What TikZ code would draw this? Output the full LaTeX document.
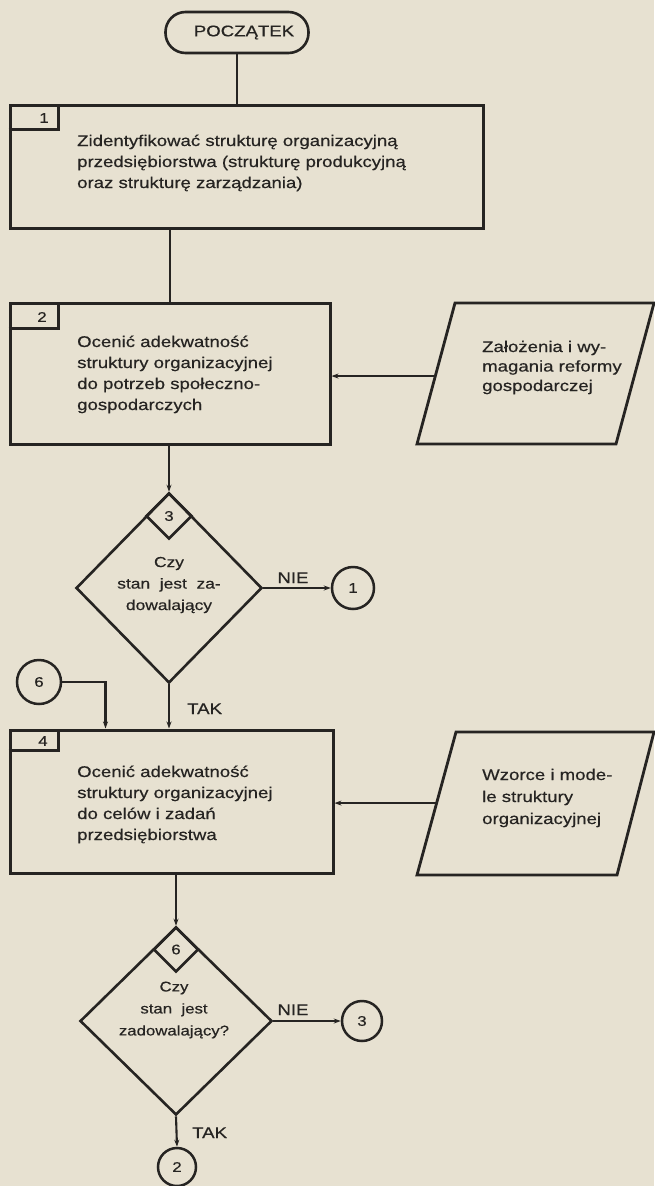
\documentclass[tikz,border=0pt]{standalone}
\usepackage{fontspec}
\setmainfont{Liberation Sans}[FakeStretch=1.2, WordSpace=2, FakeBold=0.5]
\usetikzlibrary{shapes.geometric, arrows.meta, calc}
\definecolor{paper}{RGB}{231,225,209}
\definecolor{ink}{RGB}{38,36,34}
\begin{document}
\begin{tikzpicture}[x=1pt, y=-1pt,
  procbox/.style={draw=ink, line width=3pt, rectangle, inner sep=0pt},
  tabline/.style={draw=ink, line width=2.5pt},
  datain/.style={draw=ink, line width=2.8pt, line join=miter},
  txt/.style={anchor=base west, inner sep=0pt, align=left, text=ink,
              font=\fontsize{15.5}{21}\selectfont},
  ctxt/.style={anchor=center, inner sep=0pt, align=center, text=ink,
              font=\fontsize{14.5}{21.5}\selectfont},
  lbl/.style={inner sep=0pt, text=ink, font=\fontsize{15.5}{18}\selectfont},
  num/.style={inner sep=0pt, text=ink, font=\fontsize{14}{16}\selectfont},
  conn/.style={draw=ink, line width=2.1pt},
  arr/.style={conn, -{Stealth[length=7pt,width=5pt]}},
  decision/.style={diamond, draw=ink, line width=2.6pt, inner sep=0pt},
  link/.style={circle, draw=ink, line width=2.5pt, inner sep=0pt},
  startstop/.style={draw=ink, line width=2.6pt, rounded corners=20pt, inner sep=0pt,
                 text=ink, font=\fontsize{15.5}{18}\selectfont}
]
\useasboundingbox (0,0) rectangle (654,1186);
\fill[paper] (0,0) rectangle (654,1186);

% start terminal
\node[startstop, minimum width=143pt, minimum height=41pt] (start) at (237,32.5)
  {\hspace*{14pt}POCZĄTEK};

% step 1
\node[procbox, minimum width=473pt, minimum height=123pt] (b1) at (246.5,166.5) {};
\draw[tabline] ([yshift=-26pt]b1.north west) -| ([xshift=50pt]b1.north west);
\node[num] (n1) at (44,118) {1};
\node[txt, text width=420pt] (t1) at (77,146)
  {Zidentyfikować strukturę organizacyjną\\
   przedsiębiorstwa (strukturę produkcyjną\\
   oraz strukturę zarządzania)};

% step 2
\node[procbox, minimum width=320pt, minimum height=141pt] (b2) at (170,373.5) {};
\draw[tabline] ([yshift=-27pt]b2.north west) -| ([xshift=50pt]b2.north west);
\node[num] (n2) at (42,317) {2};
\node[txt, text width=240pt] (t2) at (77,347)
  {Ocenić adekwatność\\
   struktury organizacyjnej\\
   do potrzeb społeczno-\\
   gospodarczych};

% input data for step 2
\coordinate (p1a) at (455,303);
\coordinate (p1b) at (654,303);
\coordinate (p1c) at (616,444);
\coordinate (p1d) at (417,444);
\draw[datain] (p1a) -- (p1b) -- (p1c) -- (p1d) -- cycle;
\coordinate (p1w) at ($(p1a)!0.518!(p1d)$);
\node[txt, text width=150pt, font=\fontsize{15.5}{19.5}\selectfont] (tp1) at (482,352)
  {Założenia i wy-\\
   magania reformy\\
   gospodarczej};

% decision 3
\node[decision, minimum width=186pt, minimum height=190pt] (d3) at (169,588) {};
\node[decision, minimum width=46pt, minimum height=46pt] (d3n) at (169,516) {};
\node[num] at (d3n) {3};
\node[ctxt] (t3) at (169,585) {Czy\\stan jest za-\\dowalający};
\node[link, minimum size=42pt] (c1) at (353,588) {};
\node[num] at (c1) {1};
\node[lbl, anchor=base] (nie1) at (293,583) {NIE};

% connector 6
\node[link, minimum size=44pt] (c6) at (39,682) {};
\node[num] at (c6) {6};
\node[lbl, anchor=base west] (tak1) at (187,714) {TAK};

% step 4
\node[procbox, minimum width=323pt, minimum height=143pt] (b4) at (171.5,801.5) {};
\draw[tabline] ([yshift=-22pt]b4.north west) -| ([xshift=50pt]b4.north west);
\node[num] (n4) at (43,741) {4};
\node[txt, text width=240pt] (t4) at (77,777)
  {Ocenić adekwatność\\
   struktury organizacyjnej\\
   do celów i zadań\\
   przedsiębiorstwa};

% input data for step 4
\coordinate (p2a) at (456,732);
\coordinate (p2b) at (654,732);
\coordinate (p2c) at (617,875);
\coordinate (p2d) at (417,875);
\draw[datain] (p2a) -- (p2b) -- (p2c) -- (p2d) -- cycle;
\coordinate (p2w) at ($(p2a)!0.497!(p2d)$);
\node[txt, text width=150pt, font=\fontsize{15.5}{22}\selectfont] (tp2) at (482,780)
  {Wzorce i mode-\\
   le struktury\\
   organizacyjnej};

% decision 6
\node[decision, minimum width=192pt, minimum height=188pt] (d6) at (176,1021) {};
\node[decision, minimum width=45pt, minimum height=45pt] (d6n) at (176,949.5) {};
\node[num] at (d6n) {6};
\node[ctxt, font=\fontsize{14}{22}\selectfont] (t6) at (174,1010) {Czy\\stan jest\\zadowalający?};
\node[link, minimum size=40pt] (c3) at (362,1021) {};
\node[num] at (c3) {3};
\node[lbl, anchor=base] (nie2) at (293,1015) {NIE};
\node[link, minimum size=38pt] (c2) at (177,1167) {};
\node[num] at (c2) {2};
\node[lbl, anchor=base west] (tak2) at (192,1138) {TAK};

% flow lines
\draw[conn] (start.south) -- (start.south |- b1.north);
\draw[conn] (b2.north |- b1.south) -- (b2.north);
\draw[arr] (d3.north |- b2.south) -- (d3.north);
\draw[arr] (d3.east) -- (c1.west);
\draw[arr] (d3.south) -- (d3.south |- b4.north);
\draw[arr] (c6.east) -| ([xshift=97pt]b4.north west);
\draw[arr] (p1w) -- (p1w -| b2.east);
\draw[arr] (p2w) -- (p2w -| b4.east);
\draw[arr] (d6.north |- b4.south) -- (d6.north);
\draw[arr] (d6.east) -- (c3.west);
\draw[arr] (d6.south) -- (c2.north);
\end{tikzpicture}
\end{document}
